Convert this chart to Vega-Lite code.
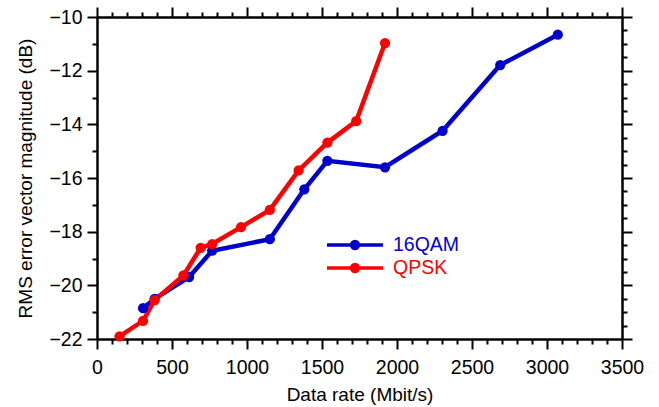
{
  "$schema": "https://vega.github.io/schema/vega-lite/v6.json",
  "width": 525,
  "height": 322,
  "autosize": "none",
  "padding": {"left": 97, "top": 17, "right": 37, "bottom": 68},
  "config": {
    "font": "Liberation Sans",
    "view": {"stroke": null},
    "axis": {
      "grid": false,
      "domainColor": "black",
      "domainWidth": 2.5,
      "tickColor": "black",
      "tickWidth": 2,
      "labelColor": "black",
      "labelFontSize": 19.5,
      "titleFontSize": 19,
      "titleFontWeight": "normal",
      "titleColor": "black",
      "labelOverlap": false,
      "labelBound": false,
      "labelFlush": false
    }
  },
  "data": {
    "values": [
      {"mod": "16QAM", "rate": 307, "evm": -20.85},
      {"mod": "16QAM", "rate": 384, "evm": -20.5},
      {"mod": "16QAM", "rate": 614, "evm": -19.69},
      {"mod": "16QAM", "rate": 768, "evm": -18.71},
      {"mod": "16QAM", "rate": 1152, "evm": -18.28},
      {"mod": "16QAM", "rate": 1382, "evm": -16.42},
      {"mod": "16QAM", "rate": 1536, "evm": -15.36},
      {"mod": "16QAM", "rate": 1920, "evm": -15.6},
      {"mod": "16QAM", "rate": 2304, "evm": -14.24},
      {"mod": "16QAM", "rate": 2688, "evm": -11.79},
      {"mod": "16QAM", "rate": 3072, "evm": -10.66},
      {"mod": "QPSK", "rate": 150, "evm": -21.9},
      {"mod": "QPSK", "rate": 307, "evm": -21.32},
      {"mod": "QPSK", "rate": 384, "evm": -20.55},
      {"mod": "QPSK", "rate": 576, "evm": -19.63},
      {"mod": "QPSK", "rate": 691, "evm": -18.6},
      {"mod": "QPSK", "rate": 768, "evm": -18.46},
      {"mod": "QPSK", "rate": 960, "evm": -17.83},
      {"mod": "QPSK", "rate": 1152, "evm": -17.19},
      {"mod": "QPSK", "rate": 1344, "evm": -15.72},
      {"mod": "QPSK", "rate": 1536, "evm": -14.68},
      {"mod": "QPSK", "rate": 1728, "evm": -13.88},
      {"mod": "QPSK", "rate": 1920, "evm": -10.97}
    ]
  },
  "layer": [
    {
      "mark": {"type": "line", "strokeWidth": 4.5, "point": {"filled": true, "size": 105, "opacity": 1}},
      "encoding": {
        "x": {
          "field": "rate", "type": "quantitative",
          "scale": {"domain": [0, 3500], "nice": false},
          "axis": {
            "orient": "bottom",
            "values": [0,100,200,300,400,500,600,700,800,900,1000,1100,1200,1300,1400,1500,1600,1700,1800,1900,2000,2100,2200,2300,2400,2500,2600,2700,2800,2900,3000,3100,3200,3300,3400,3500],
            "format": "d",
            "labelExpr": "datum.value % 500 == 0 ? datum.label : ''",
            "tickSize": {"condition": {"test": "datum.value % 500 != 0", "value": 5}, "value": 10},
            "labelPadding": 9,
            "title": "Data rate (Mbit/s)",
            "titlePadding": 9
          }
        },
        "y": {
          "field": "evm", "type": "quantitative",
          "scale": {"domain": [-22, -10], "nice": false, "zero": false},
          "axis": {
            "orient": "left",
            "values": [-22,-21.5,-21,-20.5,-20,-19.5,-19,-18.5,-18,-17.5,-17,-16.5,-16,-15.5,-15,-14.5,-14,-13.5,-13,-12.5,-12,-11.5,-11,-10.5,-10],
            "labelExpr": "datum.value % 2 == 0 ? datum.label : ''",
            "format": "d",
            "tickSize": {"condition": {"test": "datum.value % 2 != 0", "value": 5}, "value": 10},
            "labelPadding": 5,
            "title": "RMS error vector magnitude (dB)",
            "titlePadding": 13
          }
        },
        "color": {
          "field": "mod", "type": "nominal",
          "scale": {"domain": ["16QAM", "QPSK"], "range": ["#0000cc", "#ff0000"]},
          "legend": {
            "orient": "none",
            "legendX": 246,
            "legendY": 216,
            "title": null,
            "padding": 0,
            "labelFontSize": 19.5,
            "labelOffset": 26,
            "rowPadding": 0,
            "symbolSize": 400,
            "symbolStrokeWidth": 3.5,
            "symbolType": "M-2.8,0L2.8,0M-0.34,0A0.34,0.34,0,1,1,0.34,0A0.34,0.34,0,1,1,-0.34,0Z",
            "encode": {
              "symbols": {"update": {"fill": {"signal": "scale('color', datum.value)"}, "stroke": {"signal": "scale('color', datum.value)"}, "opacity": {"value": 1}}},
              "labels": {"update": {"fill": {"signal": "scale('color', datum.value)"}}}
            }
          }
        }
      }
    },
    {
      "mark": {"type": "point", "opacity": 0},
      "encoding": {
        "x": {
          "field": "rate", "type": "quantitative",
          "axis": {
            "orient": "top",
            "values": [0,100,200,300,400,500,600,700,800,900,1000,1100,1200,1300,1400,1500,1600,1700,1800,1900,2000,2100,2200,2300,2400,2500,2600,2700,2800,2900,3000,3100,3200,3300,3400,3500],
            "labels": false,
            "title": null,
            "tickSize": {"condition": {"test": "datum.value % 500 != 0", "value": 5}, "value": 10}
          }
        },
        "y": {
          "field": "evm", "type": "quantitative",
          "axis": {
            "orient": "right",
            "values": [-22,-21.5,-21,-20.5,-20,-19.5,-19,-18.5,-18,-17.5,-17,-16.5,-16,-15.5,-15,-14.5,-14,-13.5,-13,-12.5,-12,-11.5,-11,-10.5,-10],
            "labels": false,
            "title": null,
            "tickSize": {"condition": {"test": "datum.value % 2 != 0", "value": 5}, "value": 10}
          }
        }
      }
    }
  ],
  "resolve": {"axis": {"x": "independent", "y": "independent"}}
}
